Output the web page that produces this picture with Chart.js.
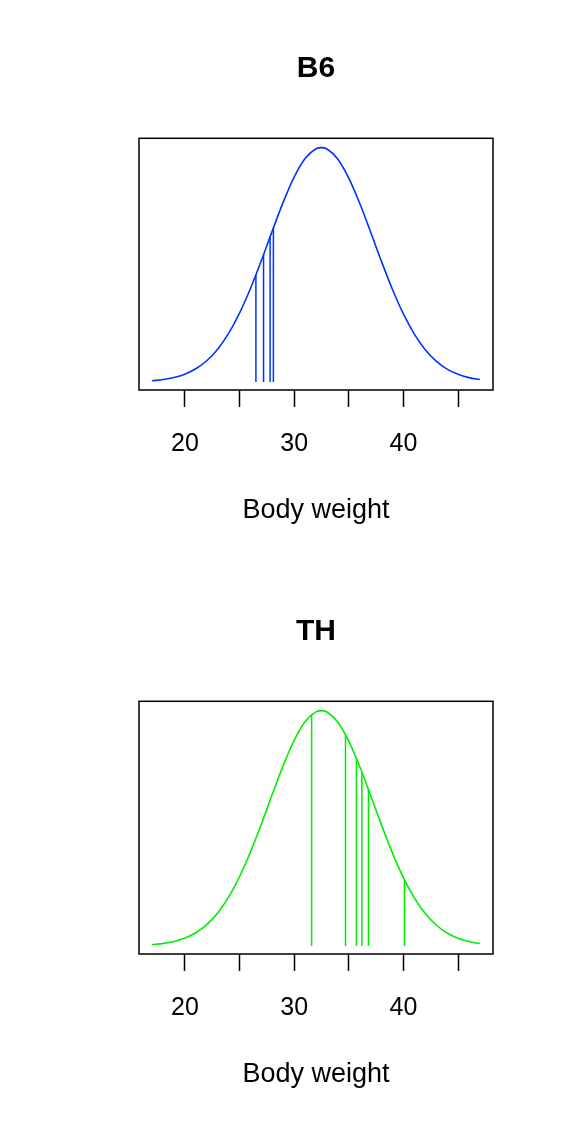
<!DOCTYPE html>
<html lang="en">
<head>
  <meta charset="UTF-8" />
  <title>Body weight – B6 / TH</title>
  <script src="https://cdn.jsdelivr.net/npm/chart.js"></script>
  <style>
    body { margin: 0; background: #fff; }
    .panel { width: 564px; height: 562.5px; position: relative; }
    canvas { display: block; }
  </style>
</head>
<body>
  <div class="panel"><canvas id="b6Chart" width="564" height="562"></canvas></div>
  <div class="panel"><canvas id="thChart" width="564" height="563"></canvas></div>

  <script>
    // density curve (same curve in both panels)
    const curveX = [17, 18, 19, 20, 21, 22, 23, 24, 25, 26, 27, 28, 29, 30, 31, 32, 32.5,
                    33, 34, 35, 36, 37, 38, 39, 40, 41, 42, 43, 44, 45, 46, 47];
    const curveY = [0.00044, 0.00085, 0.00157, 0.00276, 0.00467, 0.00755, 0.01168, 0.01730,
                    0.02453, 0.03330, 0.04326, 0.05380, 0.06403, 0.07295, 0.07956, 0.08304, 0.08346,
                    0.08297, 0.07935, 0.07263, 0.06364, 0.05337, 0.04284, 0.03292, 0.02421,
                    0.01705, 0.01149, 0.00741, 0.00457, 0.00270, 0.00153, 0.00083];

    // individual body weights and the curve height at each
    const b6Weights = [26.5, 27.2, 27.8, 28.1];
    const b6Heights = [0.03816, 0.04534, 0.05168, 0.05485];
    const thWeights = [31.6, 34.7, 35.7, 36.2, 36.8, 40.1];
    const thHeights = [0.08206, 0.07493, 0.06652, 0.06166, 0.05548, 0.02343];

    const tickVals = [20, 25, 30, 35, 40, 45];
    const tickLabels = ["20", "", "30", "", "40", ""];

    const FONT = "'Liberation Sans', Arial, Helvetica, sans-serif";

    // R style box around the plot region
    const boxPlugin = {
      id: "box",
      afterDraw(chart) {
        const a = chart.chartArea, ctx = chart.ctx;
        ctx.save();
        ctx.strokeStyle = "#000";
        ctx.lineWidth = 1.5;
        ctx.strokeRect(a.left, a.top, a.right - a.left, a.bottom - a.top);
        ctx.restore();
      }
    };

    function makeChart(id, title, weights, heights, color) {
      const datasets = [{
        data: curveX.map((x, i) => ({ x: x, y: curveY[i] })),
        borderColor: color,
        borderWidth: 1.6,
        pointRadius: 0,
        cubicInterpolationMode: "monotone",
        fill: false
      }];
      weights.forEach((w, i) => {
        datasets.push({
          data: [{ x: w, y: 0 }, { x: w, y: heights[i] }],
          borderColor: color,
          borderWidth: 1.5,
          pointRadius: 0,
          fill: false
        });
      });

      return new Chart(document.getElementById(id), {
        type: "line",
        data: { datasets: datasets },
        options: {
          responsive: false,
          animation: false,
          layout: { padding: { left: 139, right: 71, top: 0, bottom: 0 } },
          plugins: {
            legend: { display: false },
            tooltip: { enabled: false },
            title: {
              display: true,
              text: title,
              color: "#000",
              font: { family: FONT, size: 30, weight: "bold" },
              padding: { top: 51, bottom: 51.3 }
            }
          },
          scales: {
            x: {
              type: "linear",
              min: 15.8,
              max: 48.2,
              afterBuildTicks: s => { s.ticks = tickVals.map(v => ({ value: v })); },
              afterFit: s => { s.height = 172; },
              border: { display: false },
              grid: {
                drawOnChartArea: false,
                drawTicks: true,
                tickLength: 17,
                tickWidth: 1.5,
                tickColor: "#000"
              },
              ticks: {
                autoSkip: false,
                maxRotation: 0,
                padding: 22,
                color: "#000",
                font: { family: FONT, size: 25 },
                callback: (v, i) => tickLabels[i]
              },
              title: {
                display: true,
                text: "Body weight",
                color: "#000",
                font: { family: FONT, size: 27 },
                padding: { top: 0, bottom: 35 }
              }
            },
            y: {
              display: false,
              min: -0.00288,
              max: 0.08678
            }
          }
        },
        plugins: [boxPlugin]
      });
    }

    makeChart("b6Chart", "B6", b6Weights, b6Heights, "#0033ff");
    makeChart("thChart", "TH", thWeights, thHeights, "#00ee00");
  </script>
</body>
</html>
